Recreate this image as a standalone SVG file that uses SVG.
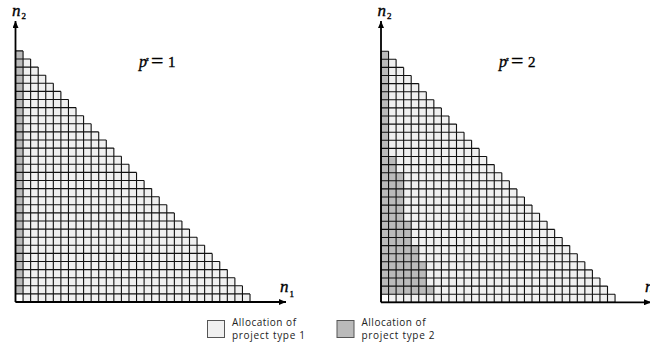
<svg xmlns="http://www.w3.org/2000/svg" width="650" height="345" viewBox="0 0 650 345">
<style>
.t1{fill:#f0f0f0}
.t2{fill:#bababa}
.t0{fill:#ffffff}
.axis{stroke:#000;stroke-width:1.8;fill:none}
.math{font-family:"Liberation Serif","Times New Roman",serif;fill:#000;stroke:#000;stroke-width:0.35}
.it{font-style:italic}
.leg{font-family:"Open Sans","Liberation Sans",sans-serif;font-size:10px;fill:#222}
.box{stroke:#555;stroke-width:1}
</style>
<defs>
<marker id="ah" markerUnits="userSpaceOnUse" markerWidth="8" markerHeight="6" refX="7" refY="3" orient="auto">
<path d="M0,0 L7,3 L0,6 Z" fill="#000"/>
</marker>
<path id="stair" d="M0,0 L31,0 31,1 30,1 30,2 29,2 29,3 28,3 28,4 27,4 27,5 26,5 26,6 25,6 25,7 24,7 24,8 23,8 23,9 22,9 22,10 21,10 21,11 20,11 20,12 19,12 19,13 18,13 18,14 17,14 17,15 16,15 16,16 15,16 15,17 14,17 14,18 13,18 13,19 12,19 12,20 11,20 11,21 10,21 10,22 9,22 9,23 8,23 8,24 7,24 7,25 6,25 6,26 5,26 5,27 4,27 4,28 3,28 3,29 2,29 2,30 1,30 1,31 0,31 Z"/>
<path id="lines" vector-effect="non-scaling-stroke" fill="none" stroke="#111" stroke-width="1.1" d="M0,0H31 M0,1H31 M0,2H30 M0,3H29 M0,4H28 M0,5H27 M0,6H26 M0,7H25 M0,8H24 M0,9H23 M0,10H22 M0,11H21 M0,12H20 M0,13H19 M0,14H18 M0,15H17 M0,16H16 M0,17H15 M0,18H14 M0,19H13 M0,20H12 M0,21H11 M0,22H10 M0,23H9 M0,24H8 M0,25H7 M0,26H6 M0,27H5 M0,28H4 M0,29H3 M0,30H2 M0,31H1 M0,0V31 M1,0V31 M2,0V30 M3,0V29 M4,0V28 M5,0V27 M6,0V26 M7,0V25 M8,0V24 M9,0V23 M10,0V22 M11,0V21 M12,0V20 M13,0V19 M14,0V18 M15,0V17 M16,0V16 M17,0V15 M18,0V14 M19,0V13 M20,0V12 M21,0V11 M22,0V10 M23,0V9 M24,0V8 M25,0V7 M26,0V6 M27,0V5 M28,0V4 M29,0V3 M30,0V2 M31,0V1"/>
</defs>

<!-- Left chart: p^s = 1 -->
<g id="chart1">
<g transform="translate(15.5,302) scale(7.565,-8.1)">
<use href="#stair" class="t1"/>
<rect x="0" y="1" width="1" height="30" class="t2"/>
<rect x="0" y="0" width="1" height="1" class="t0"/>
<use href="#lines"/>
</g>
<line x1="15.5" y1="302" x2="15.5" y2="21" class="axis" marker-end="url(#ah)"/>
<line x1="15.5" y1="302" x2="286" y2="302" class="axis" marker-end="url(#ah)"/>
<text class="math it" x="12" y="16" font-size="17">n</text>
<text class="math" x="21.5" y="18.5" font-size="9">2</text>
<text class="math it" x="280" y="292" font-size="17">n</text>
<text class="math" x="289.5" y="296.5" font-size="9">1</text>
<text class="math it" x="139" y="67" font-size="16">p</text>
<text class="math it" x="146" y="61" font-size="7">s</text>
<text class="math" x="151" y="67.5" font-size="22">=</text>
<text class="math" x="168" y="67" font-size="15">1</text>
</g>

<!-- Right chart: p^s = 2 -->
<g id="chart2">
<g transform="translate(381,302.3) scale(7.55,-8.1)">
<use href="#stair" class="t1"/>
<path d="M0,1 L7,1 7,2 6,2 6,5 5,5 5,7 4,7 4,10 3,10 3,16 2,16 2,18 1,18 1,31 0,31 Z" class="t2"/>
<rect x="0" y="0" width="1" height="1" class="t0"/>
<use href="#lines"/>
</g>
<line x1="381" y1="302.3" x2="381" y2="21" class="axis" marker-end="url(#ah)"/>
<line x1="381" y1="302.3" x2="651" y2="302.3" class="axis" marker-end="url(#ah)"/>
<text class="math it" x="377.5" y="16" font-size="17">n</text>
<text class="math" x="387" y="18.5" font-size="9">2</text>
<text class="math it" x="645" y="292" font-size="17">n</text>
<text class="math it" x="499" y="67" font-size="16">p</text>
<text class="math it" x="506" y="61" font-size="7">s</text>
<text class="math" x="511" y="67.5" font-size="22">=</text>
<text class="math" x="528" y="67" font-size="15">2</text>
</g>

<!-- Legend -->
<g id="legend1">
<rect x="207.5" y="320.5" width="17" height="17" class="t1 box"/>
<text class="leg" x="232" y="326" textLength="64" lengthAdjust="spacing">Allocation of</text>
<text class="leg" x="232" y="339" textLength="73" lengthAdjust="spacing">project type 1</text>
</g>
<g id="legend2">
<rect x="337" y="320.5" width="17" height="17" class="t2 box"/>
<text class="leg" x="361.5" y="326" textLength="64" lengthAdjust="spacing">Allocation of</text>
<text class="leg" x="361.5" y="339" textLength="73" lengthAdjust="spacing">project type 2</text>
</g>
</svg>
